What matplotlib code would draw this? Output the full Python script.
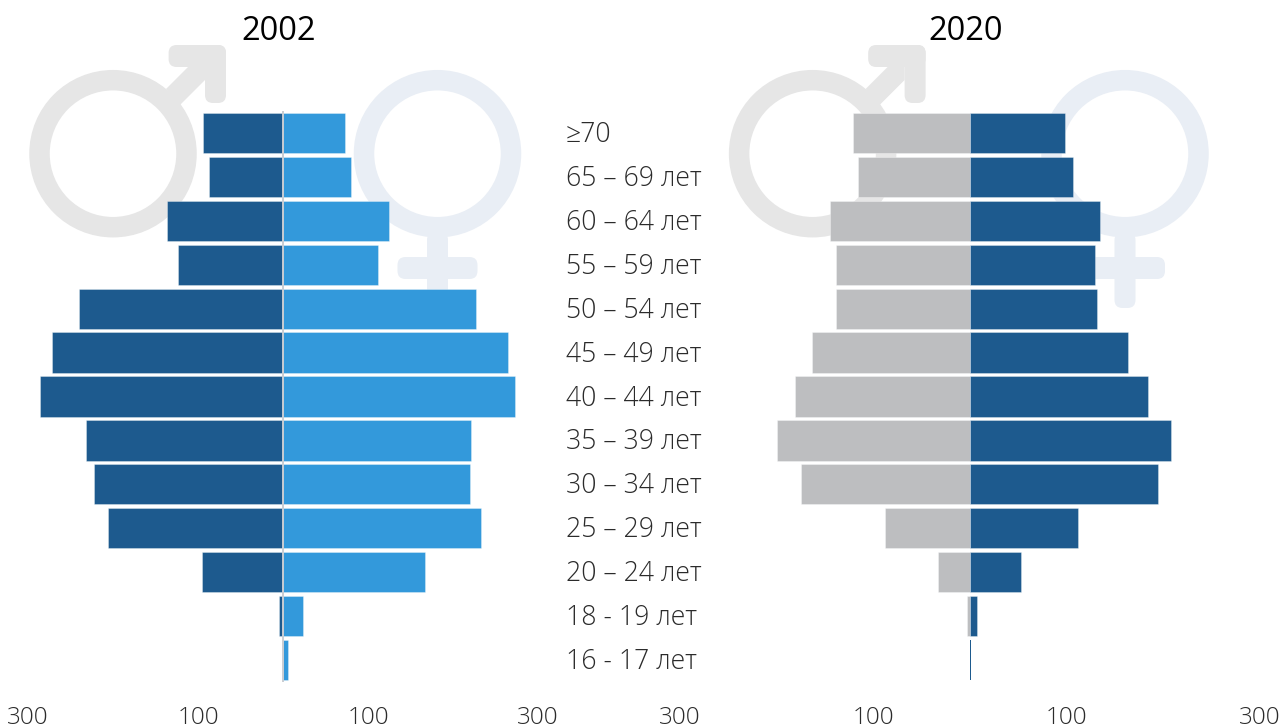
import matplotlib
matplotlib.use("Agg")
import matplotlib.pyplot as plt
from matplotlib.patches import Circle, FancyBboxPatch, Polygon
from matplotlib.transforms import blended_transform_factory

plt.rcParams['font.family'] = ['Open Sans', 'DejaVu Sans']

# bottom to top
age_groups = ["16 - 17 лет", "18 - 19 лет", "20 – 24 лет", "25 – 29 лет", "30 – 34 лет",
              "35 – 39 лет", "40 – 44 лет", "45 – 49 лет", "50 – 54 лет", "55 – 59 лет",
              "60 – 64 лет", "65 – 69 лет", "≥70"]
men_2002 = [0.5, 5, 95, 206, 222, 232, 286, 272, 240, 123, 136, 87, 94]
women_2002 = [6, 24, 167, 233, 220, 221, 273, 265, 227, 112, 125, 80, 73]
men_2020 = [0, 3, 33, 88, 175, 200, 181, 164, 139, 139, 145, 116, 121.5]
women_2020 = [1, 7, 53, 111, 194, 208, 184, 163, 131, 129, 134, 106, 98]
tick_values = [-300, -100, 100, 300]
tick_labels = ["300", "100", "100", "300"]

W, H = 1282, 728
DARK = "#1D5A8E"
LIGHT = "#3399DB"
GREY = "#BDBEC0"
RING_M = "#E6E6E6"
RING_F = "#E9EEF5"
TEXT = "#2B2B2B"
EDGE = (1, 1, 1, 0.45)
LW20 = 20.5 * 72 / 100


def px_axes(fig, x0, x1, y0, y1):
    return fig.add_axes([x0 / W, 1 - y1 / H, (x1 - x0) / W, (y1 - y0) / H])


def rounded(ax, x0, y0, x1, y1, r, color):
    ax.add_patch(FancyBboxPatch((x0 + r, y0 + r), x1 - x0 - 2 * r, y1 - y0 - 2 * r,
                                boxstyle=f"round,pad={r},rounding_size={r}",
                                fc=color, ec="none"))


def male_sign(ax, dx):
    ax.add_patch(Circle((113 + dx, 153.7), 73.5, fc="none", ec=RING_M, lw=LW20))
    ax.add_patch(Polygon([(166 + dx, 89), (188 + dx, 67), (205 + dx, 60), (205 + dx, 80), (180 + dx, 105)],
                         fc=RING_M, ec="none"))
    rounded(ax, 168.6 + dx, 45, 226 + dx, 67, 8, RING_M)
    rounded(ax, 205 + dx, 45, 226 + dx, 103, 8, RING_M)


def female_sign(ax, dx):
    ax.add_patch(Circle((437.5 + dx, 153.7), 73.5, fc="none", ec=RING_F, lw=LW20))
    rounded(ax, 427 + dx, 232, 448 + dx, 308, 8, RING_F)
    rounded(ax, 397.5 + dx, 257, 477.5 + dx, 279, 8, RING_F)


def pyramid(ax, men, women, men_color, women_color):
    pos = range(len(age_groups))
    ax.barh(pos, [-v for v in men], height=0.915, color=men_color,
            edgecolor=[EDGE if v > 2 else "none" for v in men], linewidth=0.5)
    ax.barh(pos, women, height=0.915, color=women_color,
            edgecolor=[EDGE if v > 2 else "none" for v in women], linewidth=0.5)
    ax.set_xlim(-300, 300)
    ax.set_ylim(-0.5, 12.5)
    ax.set_yticks([])
    ax.set_xticks(tick_values)
    ax.set_xticklabels(tick_labels, fontsize=17.5, color=TEXT, weight="light")
    ax.tick_params(axis="x", length=0, pad=17)
    ax.patch.set_alpha(0)
    for s in ax.spines.values():
        s.set_visible(False)


fig = plt.figure(figsize=(W / 100, H / 100), dpi=100, facecolor="white")

bg = fig.add_axes([0, 0, 1, 1], zorder=0)
bg.set_xlim(0, W)
bg.set_ylim(H, 0)
bg.axis("off")
male_sign(bg, 0)
female_sign(bg, 0)
male_sign(bg, 699.6)
female_sign(bg, 687.5)

ax_2002 = px_axes(fig, 28, 538, 111, 682)
ax_2002.set_zorder(1)
pyramid(ax_2002, men_2002, women_2002, DARK, LIGHT)
ax_2002.axvline(0, color="#C9CDD2", lw=1.4, zorder=5)

ax_2020 = px_axes(fig, 680.2, 1260.2, 111, 682)
ax_2020.set_zorder(1)
pyramid(ax_2020, men_2020, women_2020, GREY, DARK)

fig.text(279 / W, 1 - 31 / H, "2002", fontsize=23.5, color="black", ha="center", va="center")
fig.text(966 / W, 1 - 31 / H, "2020", fontsize=23.5, color="black", ha="center", va="center")

label_tf = blended_transform_factory(fig.transFigure, ax_2002.transData)
for i, label in enumerate(age_groups):
    ax_2002.text(566 / W, i - 2 / 43.9, label, transform=label_tf, fontsize=19.2, color=TEXT,
                 weight="light", ha="left", va="center", clip_on=False)

fig.savefig("out.png", dpi=100)
